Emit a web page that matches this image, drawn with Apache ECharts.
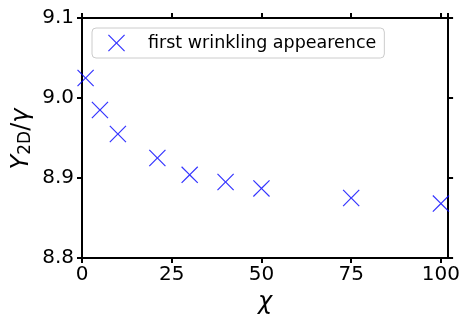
<!DOCTYPE html>
<html>
<head>
<meta charset="utf-8">
<script src="https://cdn.jsdelivr.net/npm/echarts@6/dist/echarts.min.js"></script>
<style>
  html, body { margin: 0; padding: 0; background: #fff; }
  #chart { width: 463px; height: 320px; }
</style>
</head>
<body>
<div id="chart"></div>
<script>
// Stiffness ratio at first wrinkling onset, versus chi
const chiValues = [1, 5, 10, 21, 30, 40, 50, 75, 100];
const ratioValues = [9.025, 8.985, 8.955, 8.925, 8.904, 8.895, 8.887, 8.875, 8.868];
const seriesName = 'first wrinkling appearence';
const xTicks = { min: 0, max: 102, step: 25 };
const yTicks = { min: 8.8, max: 9.1, step: 0.1 };

const FONT = 'DejaVu Sans';
const ink = '#000000';
const markerBlue = '#0000ff';
// thin "x" marker outline (two crossing bars, filled)
const crossPath = 'path://M0,0.8L0.8,0L8,7.2L15.2,0L16,0.8L8.8,8L16,15.2L15.2,16L8,8.8L0.8,16L0,15.2L7.2,8Z';

const frameLine = { show: true, onZero: false, lineStyle: { color: ink, width: 2 } };
const outTicks = { show: true, inside: false, length: 5, lineStyle: { color: ink, width: 2 } };

const chart = echarts.init(document.getElementById('chart'), null, { renderer: 'canvas' });

chart.setOption({
  animation: false,
  backgroundColor: '#ffffff',
  grid: { left: 82, right: 13, top: 18, bottom: 58, containLabel: false },
  xAxis: [
    {
      type: 'value', position: 'bottom',
      min: xTicks.min, max: xTicks.max, interval: xTicks.step,
      axisLine: frameLine, axisTick: outTicks, splitLine: { show: false },
      axisLabel: { show: true, margin: 7, showMaxLabel: false, color: ink, fontFamily: FONT, fontSize: 20 },
      name: 'χ', nameLocation: 'middle', nameGap: 33,
      nameTextStyle: { color: ink, fontFamily: FONT, fontSize: 24, fontStyle: 'italic' }
    },
    {
      type: 'value', position: 'top',
      min: xTicks.min, max: xTicks.max, interval: xTicks.step,
      axisLine: frameLine, axisTick: outTicks, splitLine: { show: false },
      axisLabel: { show: false }
    }
  ],
  yAxis: [
    {
      type: 'value', position: 'left',
      min: yTicks.min, max: yTicks.max, interval: yTicks.step,
      axisLine: frameLine, axisTick: outTicks, splitLine: { show: false },
      axisLabel: { margin: 8, color: ink, fontFamily: FONT, fontSize: 20, formatter: v => v.toFixed(1) }
    },
    {
      type: 'value', position: 'right',
      min: yTicks.min, max: yTicks.max, interval: yTicks.step,
      axisLine: frameLine, axisTick: outTicks, splitLine: { show: false },
      axisLabel: { show: false }
    }
  ],
  legend: {
    left: 92, top: 28,
    orient: 'horizontal',
    icon: crossPath,
    itemWidth: 17, itemHeight: 17,
    padding: [6, 8, 6, 16],
    backgroundColor: '#ffffff',
    borderColor: '#cccccc', borderWidth: 1, borderRadius: 4,
    textStyle: { color: ink, fontFamily: FONT, fontSize: 17.5, padding: [0, 0, 0, 18] },
    data: [seriesName]
  },
  series: [
    {
      name: seriesName,
      type: 'scatter',
      xAxisIndex: 0, yAxisIndex: 0,
      symbol: crossPath,
      symbolSize: 17,
      itemStyle: { color: markerBlue, borderWidth: 0 },
      data: chiValues.map((c, i) => [c, ratioValues[i]])
    }
  ],
  // Rotated y-axis title: Y_2D / gamma, subscript sits lower in the line
  graphic: [
    {
      type: 'text',
      x: 22, y: 139,
      rotation: Math.PI / 2,
      style: {
        text: '{m|Y}{s|2D}{u|/}{m|γ}',
        align: 'center',
        verticalAlign: 'middle',
        fill: ink,
        rich: {
          m: { fontFamily: FONT, fontSize: 24, fontStyle: 'italic', lineHeight: 24, verticalAlign: 'top', height: 24 },
          u: { fontFamily: FONT, fontSize: 24, lineHeight: 24, verticalAlign: 'top', height: 24 },
          s: { fontFamily: FONT, fontSize: 17, lineHeight: 17, verticalAlign: 'bottom', height: 17 }
        }
      }
    }
  ]
});
</script>
</body>
</html>
